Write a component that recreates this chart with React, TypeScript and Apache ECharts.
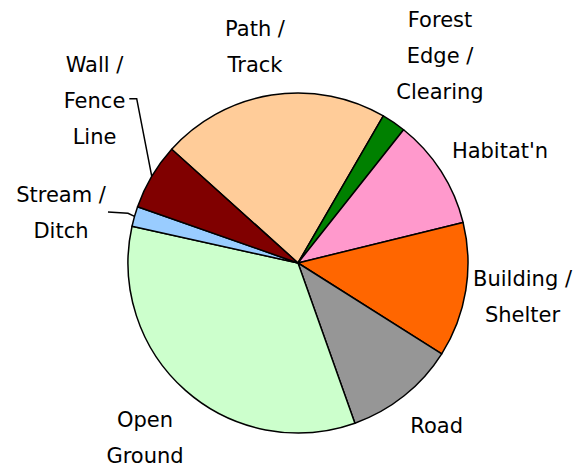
import React, { useEffect, useRef } from "react";
import * as echarts from "echarts";

// Data (clockwise from the Wall/Path boundary)
const categories = [
  "Path /\nTrack",
  "Forest\nEdge /\nClearing",
  "Habitat'n",
  "Building /\nShelter",
  "Road",
  "Open\nGround",
  "Stream /\nDitch",
  "Wall /\nFence\nLine",
];
const values = [21.7, 2.3, 10.5, 12.8, 10.6, 33.9, 1.9, 6.3];

// Styles
const colors = ["#FFCC99", "#008000", "#FF99CC", "#FF6600", "#969696", "#CCFFCC", "#99CCFF", "#800000"];
const labelPositions: number[][] = [
  [255, 47],
  [440, 55.5],
  [500, 151],
  [522.5, 297],
  [436.7, 426],
  [145, 438],
  [61, 212.5],
  [94.5, 100.5],
];
const leaderTail: Record<number, number[][]> = {
  6: [[128, 213.3], [108, 212]],
  7: [[136.7, 98.7], [129.3, 98.7]],
};

export default function App() {
  const ref = useRef<HTMLDivElement>(null);
  useEffect(() => {
    if (!ref.current) return;
    const chart = echarts.init(ref.current, undefined, { renderer: "svg" });
    chart.setOption({
      animation: false,
      backgroundColor: "#ffffff",
      series: [
        {
          type: "pie",
          center: [298, 263],
          radius: 170,
          startAngle: 138,
          clockwise: true,
          avoidLabelOverlap: false,
          silent: true,
          itemStyle: { borderColor: "#000000", borderWidth: 1.5 },
          label: {
            show: true,
            position: "outside",
            fontFamily: "DejaVu Sans",
            fontSize: 21,
            lineHeight: 36,
            color: "#000000",
            align: "center",
          },
          labelLine: { show: false, lineStyle: { color: "#000000", width: 1.5 } },
          labelLayout: (p: any) => {
            const i = p.dataIndex;
            const pos = labelPositions[i];
            const out: any = { x: pos[0], y: pos[1], align: "center", verticalAlign: "middle" };
            if (leaderTail[i] && p.labelLinePoints && p.labelLinePoints[0]) {
              out.labelLinePoints = [p.labelLinePoints[0], ...leaderTail[i]];
            }
            return out;
          },
          data: categories.map((name, i) => ({
            name,
            value: values[i],
            itemStyle: { color: colors[i] },
            labelLine: { show: leaderTail[i] !== undefined },
          })),
        },
      ],
    });
    return () => chart.dispose();
  }, []);
  return (
    <div
      ref={ref}
      style={{ position: "fixed", left: 0, top: 0, width: 580, height: 467, background: "#fff" }}
    />
  );
}
